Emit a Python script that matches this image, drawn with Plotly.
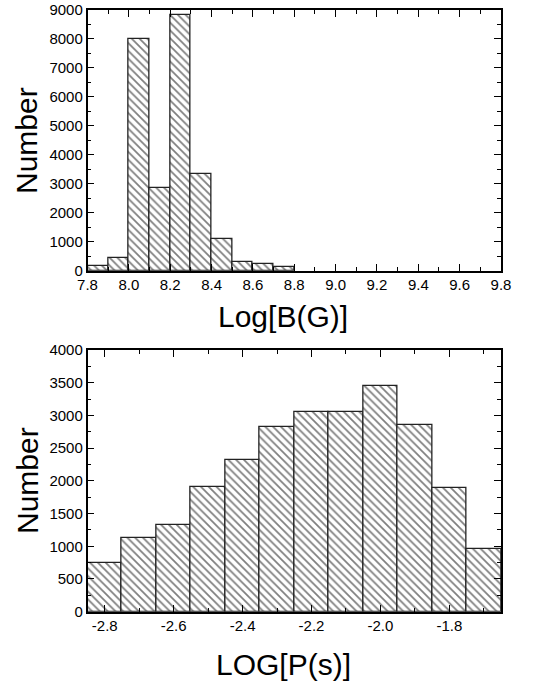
import plotly.graph_objects as go

# Top histogram: Log[B(G)]
b_centers = [7.85, 7.95, 8.05, 8.15, 8.25, 8.35, 8.45, 8.55, 8.65, 8.75]
b_counts = [170, 450, 8000, 2860, 8820, 3350, 1080, 310, 230, 130]
b_ticks = [7.8, 8.0, 8.2, 8.4, 8.6, 8.8, 9.0, 9.2, 9.4, 9.6, 9.8]
b_ticktext = ["7.8", "8.0", "8.2", "8.4", "8.6", "8.8", "9.0", "9.2", "9.4", "9.6", "9.8"]

# Bottom histogram: LOG[P(s)]
p_centers = [-2.8, -2.7, -2.6, -2.5, -2.4, -2.3, -2.2, -2.1, -2.0, -1.9, -1.8, -1.7]
p_counts = [750, 1120, 1330, 1900, 2320, 2830, 3060, 3050, 3450, 2860, 1890, 960]
p_ticks = [-2.8, -2.6, -2.4, -2.2, -2.0, -1.8]
p_ticktext = ["-2.8", "-2.6", "-2.4", "-2.2", "-2.0", "-1.8"]

FONT = "Liberation Sans, Arial, sans-serif"

pattern = dict(shape="\\", size=5.5, solidity=0.32, fgcolor="black", bgcolor="white")

fig = go.Figure()
fig.add_trace(go.Bar(x=b_centers, y=b_counts, width=0.1, xaxis="x", yaxis="y",
                     marker=dict(color="white", pattern=pattern,
                                 line=dict(color="#222", width=1.3)),
                     showlegend=False))
fig.add_trace(go.Bar(x=p_centers, y=p_counts, width=0.1, xaxis="x2", yaxis="y2",
                     marker=dict(color="white", pattern=pattern,
                                 line=dict(color="#222", width=1.3)),
                     showlegend=False))

xd = [87.5 / 538, 501 / 538]
axis_common = dict(showline=True, linecolor="black", linewidth=1.5, mirror="ticks",
                   ticks="inside", ticklen=7, tickwidth=1.3, tickcolor="black",
                   showgrid=False, zeroline=False, automargin=False,
                   tickfont=dict(family=FONT, size=15, color="black"))

fig.update_layout(
    width=538, height=684,
    margin=dict(l=0, r=0, t=0, b=0, pad=0, autoexpand=False),
    paper_bgcolor="white", plot_bgcolor="white",
    bargap=0,
    xaxis=dict(domain=xd, anchor="y", range=[7.8, 9.8], tickvals=b_ticks, ticktext=b_ticktext,
               minor=dict(dtick=0.1, tick0=7.8, ticks="inside", ticklen=4, tickcolor="black", tickwidth=1.2),
               **axis_common),
    yaxis=dict(domain=[1 - 270.7 / 684, 1 - 10 / 684], anchor="x", range=[0, 9000], dtick=1000,
               minor=dict(dtick=500, ticks="inside", ticklen=4, tickcolor="black", tickwidth=1.2),
               **axis_common),
    xaxis2=dict(domain=xd, anchor="y2", range=[-2.85, -1.65], tickvals=p_ticks, ticktext=p_ticktext,
                minor=dict(dtick=0.1, tick0=-2.8, ticks="inside", ticklen=4, tickcolor="black", tickwidth=1.2),
                **axis_common),
    yaxis2=dict(domain=[1 - 611.7 / 684, 1 - 350 / 684], anchor="x2", range=[0, 4000], dtick=500,
                minor=dict(dtick=250, ticks="inside", ticklen=4, tickcolor="black", tickwidth=1.2),
                **axis_common),
)

title_font = dict(family=FONT, size=30, color="black")
fig.add_annotation(text="Number", x=27 / 538, y=1 - 141 / 684, xref="paper", yref="paper",
                   textangle=-90, showarrow=False, font=title_font, xanchor="center", yanchor="middle")
fig.add_annotation(text="Number", x=27 / 538, y=1 - 481 / 684, xref="paper", yref="paper",
                   textangle=-90, showarrow=False, font=title_font, xanchor="center", yanchor="middle")
fig.add_annotation(text="Log[B(G)]", x=283 / 538, y=1 - 316 / 684, xref="paper", yref="paper",
                   showarrow=False, font=title_font, xanchor="center", yanchor="middle")
fig.add_annotation(text="LOG[P(s)]", x=283 / 538, y=1 - 664 / 684, xref="paper", yref="paper",
                   showarrow=False, font=title_font, xanchor="center", yanchor="middle")

fig.write_html("out.html", config={"displayModeBar": False},
               post_script="document.body.style.margin='0';document.body.style.overflow='hidden';")
